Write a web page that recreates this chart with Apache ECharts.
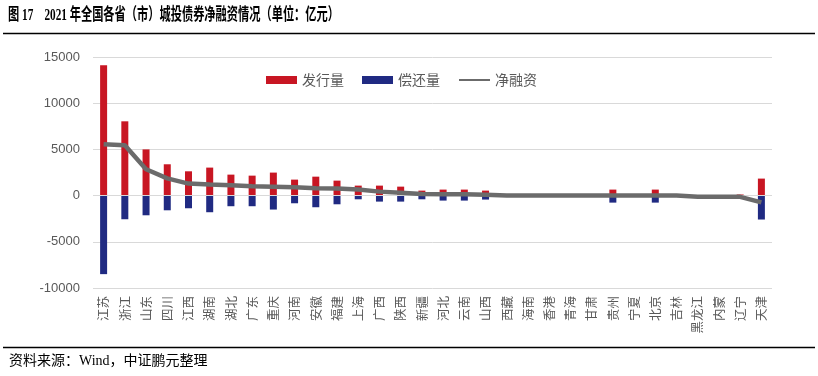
<!DOCTYPE html>
<html><head><meta charset="utf-8">
<script src="https://cdn.jsdelivr.net/npm/echarts@6/dist/echarts.min.js"></script>
<style>html,body{margin:0;padding:0;background:#fff}#c{width:818px;height:376px}</style>
</head><body><div id="c"></div>
<script>
var categories = ['江苏','浙江','山东','四川','江西','湖南','湖北','广东','重庆','河南','安徽','福建','上海','广西','陕西','新疆','河北','云南','山西','西藏','海南','香港','青海','甘肃','贵州','宁夏','北京','吉林','黑龙江','内蒙','辽宁','天津'];
var issuance = [14100,8040,5000,3390,2630,3030,2270,2160,2490,1730,2050,1620,1080,1080,970,540,650,650,540,0,0,0,0,0,650,0,650,0,0,0,120,1840];
var repayment = [-8500,-2560,-2130,-1590,-1370,-1800,-1150,-1150,-1510,-830,-1260,-940,-400,-650,-650,-400,-540,-540,-430,0,0,0,0,0,-760,0,-760,0,0,0,0,-2590];
var netFinancing = [5550,5450,2850,1870,1300,1190,1120,1010,970,900,790,760,650,430,320,180,140,140,100,0,0,0,0,0,0,0,0,0,-130,-130,-130,-740];
var yTicks = [-10000,-5000,0,5000,10000,15000];
var seriesNames = ['发行量','偿还量','净融资'];

var chart = echarts.init(document.getElementById('c'), null, {renderer:'canvas'});
var cjk = "'Noto Sans CJK SC', sans-serif";
var serifMix = "'Liberation Serif', 'Noto Sans CJK SC', serif";
chart.setOption({
  animation:false,
  backgroundColor:'#fff',
  graphic:[
    {type:'text', x:8, y:7, scaleX:0.66, scaleY:1, originX:0, originY:0,
      style:{text:'图 17    2021 年全国各省（市）城投债券净融资情况（单位：亿元）', fontSize:17, fontWeight:'bold', fill:'#000', fontFamily:serifMix}},
    {type:'line', shape:{x1:3,y1:33.5,x2:815,y2:33.5}, style:{stroke:'#000', lineWidth:1.5}},
    {type:'line', shape:{x1:3,y1:347.5,x2:815,y2:347.5}, style:{stroke:'#000', lineWidth:1.5}},
    {type:'text', x:9, y:354, style:{text:'资料来源：Wind，中证鹏元整理', fontSize:14, fill:'#000', fontFamily:serifMix}}
  ],
  legend:{
    left:261, top:68, itemWidth:31, itemHeight:8, itemGap:18,
    textStyle:{fontSize:14, color:'#595959', fontFamily:cjk},
    data:[{name:seriesNames[0], icon:'rect'},{name:seriesNames[1], icon:'rect'},{name:seriesNames[2], itemStyle:{opacity:0}}]
  },
  grid:{left:93, right:46, top:57, bottom:88, containLabel:false},
  xAxis:{
    type:'category', data:categories,
    axisLine:{show:false, onZero:false}, axisTick:{show:false},
    axisLabel:{rotate:90, interval:0, fontSize:12.5, color:'#595959', margin:8, fontFamily:cjk}
  },
  yAxis:{
    type:'value', min:yTicks[0], max:yTicks[yTicks.length-1], interval:5000,
    axisLine:{show:false}, axisTick:{show:false},
    axisLabel:{fontSize:13, color:'#595959', margin:13, fontFamily:"'Liberation Sans', Arial, sans-serif",
      formatter:function(v){return String(v);}},
    splitLine:{lineStyle:{color:'#d9d9d9', width:1}}
  },
  series:[
    {name:seriesNames[0], type:'bar', data:issuance, barWidth:7, barGap:'-100%', itemStyle:{color:'#c81623'}, z:2},
    {name:seriesNames[1], type:'bar', data:repayment, barWidth:7, barGap:'-100%', itemStyle:{color:'#202a82'}, z:2,
      markLine:{silent:true, symbol:'none', label:{show:false}, lineStyle:{color:'#d9d9d9', width:1.2, type:'solid'}, data:[{yAxis:0}]}},
    {name:seriesNames[2], type:'line', data:netFinancing, symbol:'none', z:5,
      lineStyle:{color:'#6b6b6b', width:4.5}, itemStyle:{color:'#6b6b6b'}}
  ]
});
</script></body></html>
